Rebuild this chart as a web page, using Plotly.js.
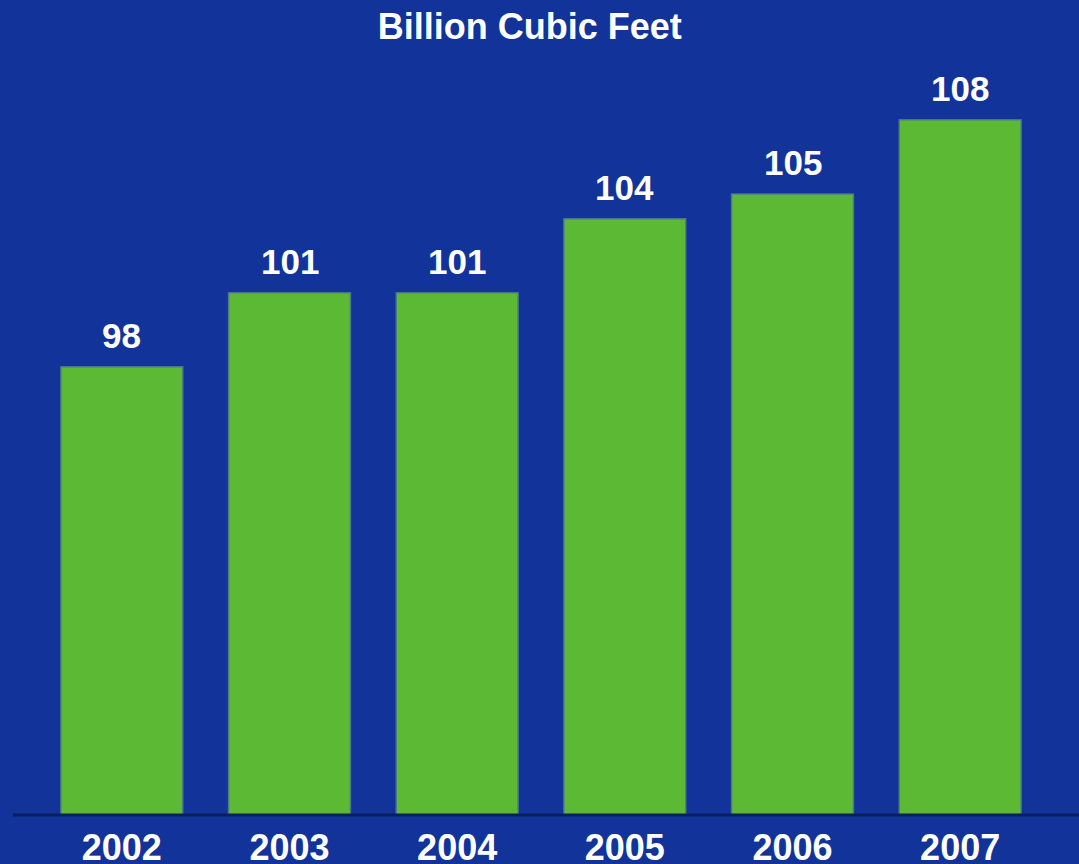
<!DOCTYPE html>
<html>
<head>
<meta charset="utf-8">
<script src="https://cdn.plot.ly/plotly-3.0.1.min.js"></script>
<style>
html,body{margin:0;padding:0;background:#12339a;}
#chart{width:1079px;height:864px;}
</style>
</head>
<body>
<div id="chart"></div>
<script>
const years = ["2002", "2003", "2004", "2005", "2006", "2007"];
const volumes = [98, 101, 101, 104, 105, 108];
const valueLabels = ["98", "101", "101", "104", "105", "108"];
const chartTitle = "Billion Cubic Feet";

const FONT = "Liberation Sans, Arial, sans-serif";

const trace = {
  type: "bar",
  x: years,
  y: volumes,
  marker: {color: "#5cb934", line: {color: "rgba(80,120,140,0.9)", width: 1.5}},
  hoverinfo: "skip"
};

// category axis: annotation x given as category index
const annotations = years.map((yr, i) => ({
  x: i, y: volumes[i], xref: "x", yref: "y",
  text: "<b>" + valueLabels[i] + "</b>",
  showarrow: false, yanchor: "bottom", yshift: 10,
  font: {family: FONT, size: 35, color: "#ffffff"}
}));

const layout = {
  width: 1079, height: 864,
  margin: {l: 38, r: 35, t: 0, b: 49},
  paper_bgcolor: "#12339a",
  plot_bgcolor: "rgba(0,0,0,0)",
  showlegend: false,
  bargap: 0.273,
  title: {
    text: "<b>" + chartTitle + "</b>",
    x: 0.491, xref: "container", xanchor: "center",
    y: 0.969, yref: "container", yanchor: "middle",
    font: {family: FONT, size: 36, color: "#ffffff"}
  },
  xaxis: {
    type: "category",
    range: [-0.5, 5.5],
    showgrid: false, zeroline: false, showline: false,
    ticks: "outside", ticklen: 1, tickcolor: "rgba(0,0,0,0)",
    tickfont: {family: FONT, size: 36, color: "#ffffff", weight: "bold"},
    fixedrange: true
  },
  yaxis: {
    range: [79.86, 112.85],
    showgrid: false, zeroline: false, showline: false,
    showticklabels: false, ticks: "",
    fixedrange: true
  },
  shapes: [{
    type: "line", xref: "paper", yref: "paper",
    x0: -0.025, x1: 1.04, y0: 0, y1: 0,
    line: {color: "#0b1f5c", width: 3}
  }],
  annotations: annotations
};

Plotly.newPlot("chart", [trace], layout, {displayModeBar: false, staticPlot: true});
</script>
</body>
</html>
